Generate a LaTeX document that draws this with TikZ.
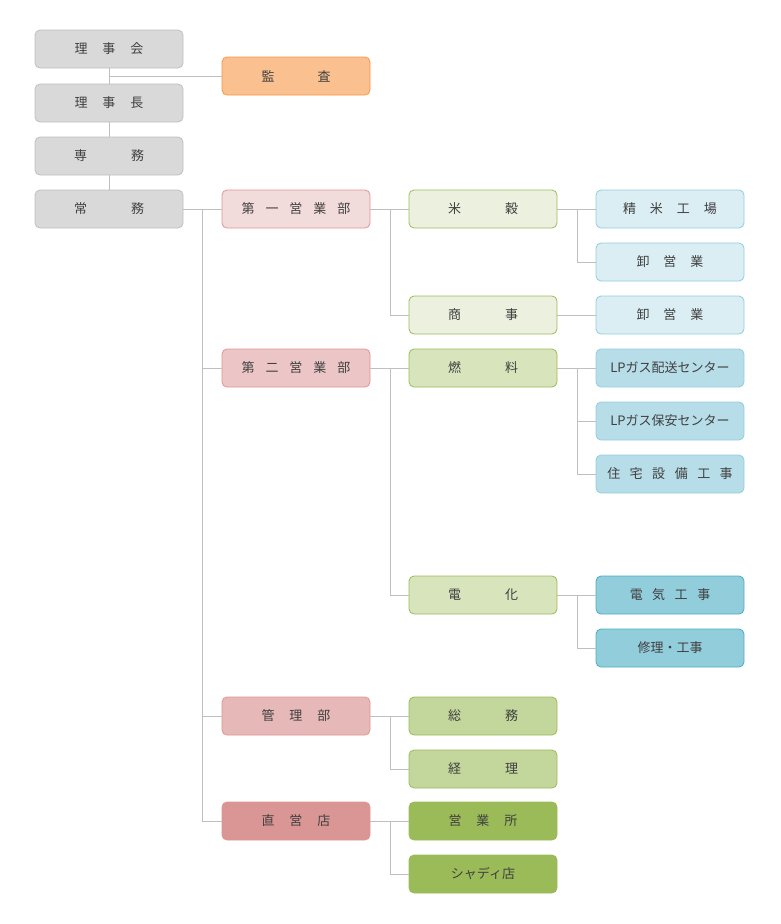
\documentclass[tikz,border=0pt]{standalone}
\usepackage{fontspec}
\setmainfont{Noto Sans CJK JP}
\usepackage{tikz}
\usetikzlibrary{positioning}
\definecolor{linegray}{HTML}{BFBFBF}
\definecolor{txt}{HTML}{404040}
\definecolor{topfill}{HTML}{D9D9D9}
\definecolor{auditfill}{HTML}{FAC090}
\definecolor{auditline}{HTML}{F79646}
\definecolor{deptline}{HTML}{E09492}
\definecolor{deptA}{HTML}{F2DCDB}
\definecolor{deptB}{HTML}{ECC6C6}
\definecolor{deptC}{HTML}{E6B8B7}
\definecolor{deptD}{HTML}{DA9694}
\definecolor{sectline}{HTML}{9BBB59}
\definecolor{sectA}{HTML}{EBF1DE}
\definecolor{sectB}{HTML}{D7E4BC}
\definecolor{sectC}{HTML}{C3D69B}
\definecolor{sectD}{HTML}{9BBB59}
\definecolor{unitline}{HTML}{92CDDC}
\definecolor{unitlineD}{HTML}{4BACC6}
\definecolor{unitA}{HTML}{DAEEF3}
\definecolor{unitB}{HTML}{B7DDE8}
\definecolor{unitC}{HTML}{92CDDC}
\tikzset{
  x=1pt, y=-1pt,
  box/.style={rectangle, rounded corners=5pt, minimum width=148pt, minimum height=38pt,
    inner sep=0pt, line width=0.8pt, text=txt, font=\fontsize{13}{15}\selectfont},
  top/.style={box, fill=topfill, draw=linegray},
  audit/.style={box, fill=auditfill, draw=auditline},
  dept/.style={box, fill=#1, draw=deptline},
  sect/.style={box, fill=#1, draw=sectline},
  unit/.style={box, fill=#1, draw=unitline},
  link/.style={draw=linegray, line width=0.8pt},
}

\begin{document}
\begin{tikzpicture}
      \useasboundingbox (0,0) rectangle (780,924);

      % left column
      \node[top] (rijikai) at (109,49)  {理\hspace{15pt}事\hspace{15pt}会};
      \node[top] (richo)   at (109,103) {理\hspace{15pt}事\hspace{15pt}長};
      \node[top] (senmu)   at (109,156) {専\hspace{44pt}務};
      \node[top] (jomu)    at (109,209) {常\hspace{44pt}務};
      \node[audit] (kansa) at (296,76) {監\hspace{43pt}査};

      % departments
      \node[dept=deptA] (dai1)    at (296,209) {第\hspace{11pt}一\hspace{11pt}営\hspace{11pt}業\hspace{11pt}部};
      \node[dept=deptB] (dai2)    at (296,368) {第\hspace{11pt}二\hspace{11pt}営\hspace{11pt}業\hspace{11pt}部};
      \node[dept=deptC] (kanri)   at (296,716) {管\hspace{15pt}理\hspace{15pt}部};
      \node[dept=deptD] (chokuei) at (296,821) {直\hspace{15pt}営\hspace{15pt}店};

      % sections
      \node[sect=sectA] (beikoku)  at (483,209) {米\hspace{44pt}穀};
      \node[sect=sectA] (shoji)    at (483,315) {商\hspace{44pt}事};
      \node[sect=sectB] (nenryo)   at (483,368) {燃\hspace{44pt}料};
      \node[sect=sectB] (denka)    at (483,595) {電\hspace{44pt}化};
      \node[sect=sectC] (somu)     at (483,716) {総\hspace{44pt}務};
      \node[sect=sectC] (keiri)    at (483,769) {経\hspace{44pt}理};
      \node[sect=sectD] (eigyosho) at (483,821) {営\hspace{15pt}業\hspace{15pt}所};
      \node[sect=sectD] (shadi)    at (483,874) {シャディ店};

      % units
      \node[unit=unitA] (seimai)  at (670,209) {精\hspace{14pt}米\hspace{14pt}工\hspace{14pt}場};
      \node[unit=unitA] (oroshi1) at (670,262) {卸\hspace{14pt}営\hspace{14pt}業};
      \node[unit=unitA] (oroshi2) at (670,315) {卸\hspace{14pt}営\hspace{14pt}業};
      \node[unit=unitB] (lp1)     at (670,368) {LPガス配送センター};
      \node[unit=unitB] (lp2)     at (670,421) {LPガス保安センター};
      \node[unit=unitB] (jutaku)  at (670,474) {住\hspace{9.5pt}宅\hspace{9.5pt}設\hspace{9.5pt}備\hspace{9.5pt}工\hspace{9.5pt}事};
      \node[unit=unitC, draw=unitlineD] (denki) at (670,595) {電\hspace{9.5pt}気\hspace{9.5pt}工\hspace{9.5pt}事};
      \node[unit=unitC, draw=unitlineD] (shuri) at (670,648) {修理・工事};

      % connectors
      \draw[link] (rijikai) -- (richo)
                  (richo) -- (senmu)
                  (senmu) -- (jomu)
                  (rijikai.south |- kansa.west) -- (kansa.west);

      \coordinate (t1) at (202,209);
      \draw[link] (jomu) -- (dai1)
                  (t1) |- (dai2.west)
                  (t1) |- (kanri.west)
                  (t1) |- (chokuei.west);

      \coordinate (t2) at (390,209);
      \coordinate (t3) at (390,368);
      \coordinate (t4) at (390,716);
      \coordinate (t5) at (390,821);
      \draw[link] (dai1) -- (beikoku)    (t2) |- (shoji.west)
                  (dai2) -- (nenryo)     (t3) |- (denka.west)
                  (kanri) -- (somu)      (t4) |- (keiri.west)
                  (chokuei) -- (eigyosho) (t5) |- (shadi.west);

      \coordinate (u1) at (577,209);
      \coordinate (u2) at (577,368);
      \coordinate (u3) at (577,595);
      \draw[link] (beikoku) -- (seimai)  (u1) |- (oroshi1.west)
                  (shoji) -- (oroshi2)
                  (nenryo) -- (lp1)      (u2) |- (lp2.west)  (u2) |- (jutaku.west)
                  (denka) -- (denki)     (u3) |- (shuri.west);
    \end{tikzpicture}
\end{document}
